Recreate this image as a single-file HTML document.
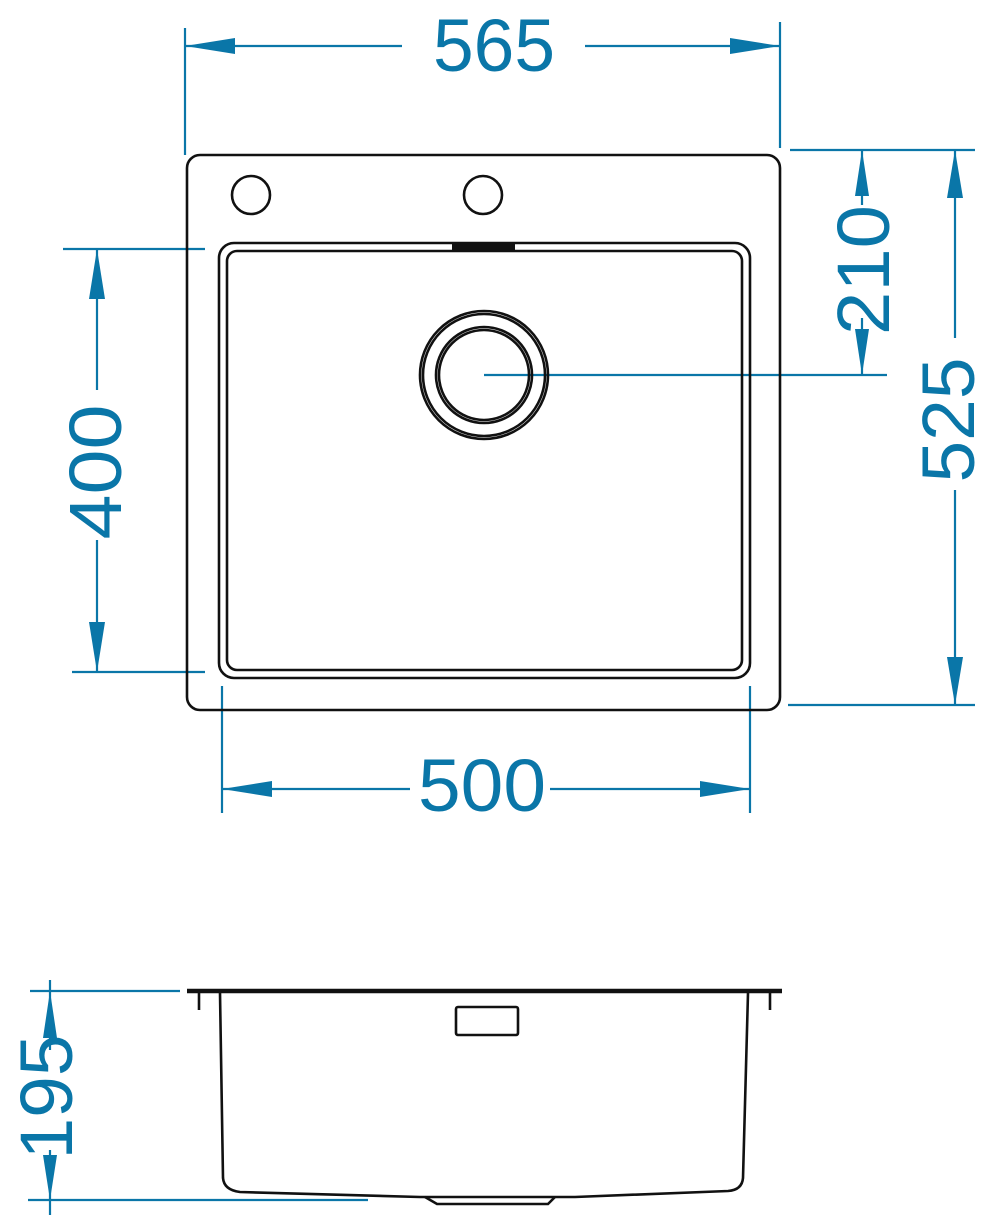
<!DOCTYPE html>
<html><head><style>body{margin:0;background:#fff}svg{display:block}</style></head><body>
<svg width="1000" height="1217" viewBox="0 0 1000 1217" xmlns="http://www.w3.org/2000/svg">
<g stroke="#0a76a8" stroke-width="2.2" fill="none">
<!-- 565 -->
<line x1="185" y1="28" x2="185" y2="155"/><line x1="780" y1="22" x2="780" y2="148"/>
<line x1="185" y1="46" x2="402" y2="46"/>
<line x1="585" y1="46" x2="780" y2="46"/>
<!-- 400 -->
<line x1="63" y1="249" x2="205" y2="249"/><line x1="72" y1="672" x2="205" y2="672"/>
<line x1="97" y1="249" x2="97" y2="390"/>
<line x1="97" y1="540" x2="97" y2="672"/>
<!-- 210 / 525 -->
<line x1="790" y1="150" x2="975" y2="150"/><line x1="788" y1="705" x2="975" y2="705"/>
<line x1="484" y1="375" x2="887" y2="375"/>
<line x1="862" y1="150" x2="862" y2="205"/>
<line x1="862" y1="318" x2="862" y2="375"/>
<line x1="955" y1="150" x2="955" y2="338"/>
<line x1="955" y1="490" x2="955" y2="705"/>
<!-- 500 -->
<line x1="222" y1="686" x2="222" y2="813"/><line x1="750" y1="686" x2="750" y2="813"/>
<line x1="222" y1="789" x2="410" y2="789"/>
<line x1="550" y1="789" x2="750" y2="789"/>
<!-- 195 -->
<line x1="30" y1="991" x2="180" y2="991"/><line x1="28" y1="1200" x2="368" y2="1200"/>
<line x1="50" y1="980" x2="50" y2="1050"/>
<line x1="50" y1="1150" x2="50" y2="1215"/>
</g>
<g fill="#0a76a8">
<path d="M185,46 L235,38 L235,54 Z M780,46 L730,38 L730,54 Z"/>
<path d="M97,249 L89,299 L105,299 Z M97,672 L89,622 L105,622 Z"/>
<path d="M862,150 L855,196 L869,196 Z M862,375 L855,329 L869,329 Z"/>
<path d="M955,150 L947,198 L963,198 Z M955,705 L947,657 L963,657 Z"/>
<path d="M222,789 L272,781 L272,797 Z M750,789 L700,781 L700,797 Z"/>
<path d="M50,991 L43,1038 L57,1038 Z M50,1200 L43,1155 L57,1155 Z"/>
</g>
<g fill="#0a76a8" font-family="Liberation Sans, sans-serif" font-size="74" text-anchor="middle">
<text x="494" y="71" textLength="122" lengthAdjust="spacingAndGlyphs">565</text>
<text x="482" y="811" textLength="128" lengthAdjust="spacingAndGlyphs">500</text>
<text transform="translate(121,472) rotate(-90)" textLength="135" lengthAdjust="spacingAndGlyphs">400</text>
<text transform="translate(889,270) rotate(-90)" textLength="130" lengthAdjust="spacingAndGlyphs">210</text>
<text transform="translate(974,420) rotate(-90)" textLength="125" lengthAdjust="spacingAndGlyphs">525</text>
<text transform="translate(72,1097) rotate(-90)" textLength="125" lengthAdjust="spacingAndGlyphs">195</text>
</g>
<g stroke="#111" fill="none" stroke-width="2.6">
<rect x="187" y="155" width="593" height="555" rx="13"/>
<circle cx="251" cy="195" r="19"/><circle cx="483" cy="195" r="19"/>
<rect x="219" y="243" width="531" height="435" rx="15"/>
<rect x="227" y="251" width="515" height="419" rx="10"/>
<circle cx="484" cy="375" r="64"/><circle cx="484" cy="375" r="61"/>
<circle cx="484" cy="375" r="48"/><circle cx="484" cy="375" r="45"/>
<line x1="187" y1="991" x2="782" y2="991" stroke-width="4.5"/>
<line x1="199" y1="993" x2="199" y2="1010"/><line x1="770" y1="993" x2="770" y2="1010"/>
<path d="M220,993 L223,1178 Q224,1190 240,1192 L420,1197 L575,1197 L728,1191 Q742,1190 743,1178 L748,993"/>
<path d="M425,1197 L437,1204 L548,1204 L555,1197"/>
<rect x="456" y="1007" width="62" height="28" rx="2"/>
</g>
<rect x="452" y="243" width="63" height="8" fill="#111"/>
</svg>
</body></html>
